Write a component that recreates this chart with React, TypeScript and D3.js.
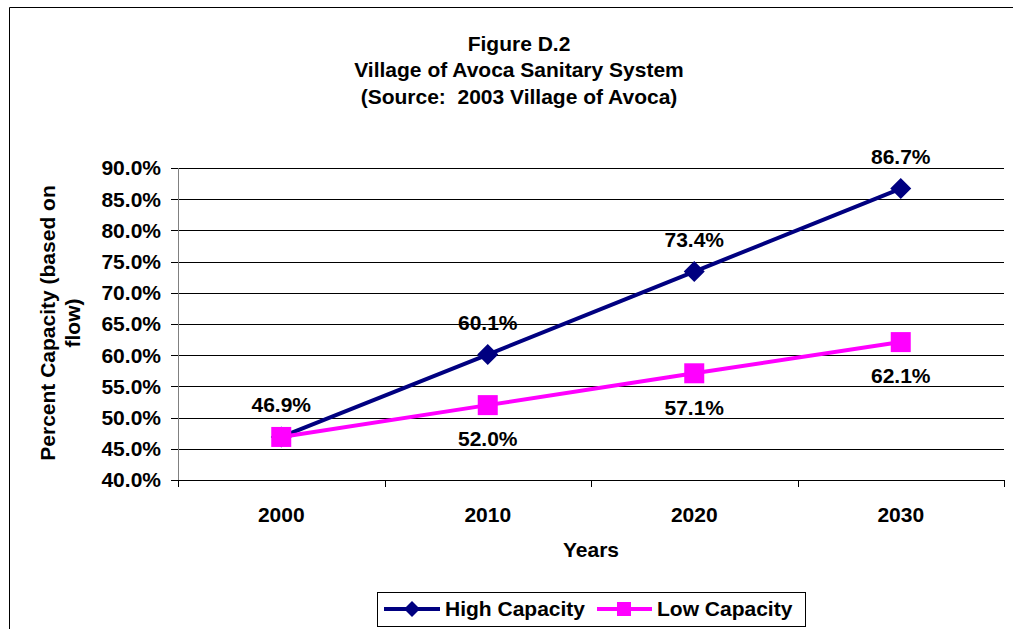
import React from "react";
import * as d3 from "d3";

const years = ["2000", "2010", "2020", "2030"];
const highCapacity = [46.9, 60.1, 73.4, 86.7];
const lowCapacity = [46.9, 52.0, 57.1, 62.1];
const yTicks = [40, 45, 50, 55, 60, 65, 70, 75, 80, 85, 90];

const W = 1013;
const H = 629;
const left = 178;
const right = 1004;
const top = 168;
const bottom = 480;
const FONT = "'Liberation Sans', Arial, sans-serif";
const FS = 21;
const HIGH = "#000080";
const LOW = "#FF00FF";

function Diamond({ x, y, r }: { x: number; y: number; r: number }) {
  return <path d={`M${x},${y - r}L${x + r},${y}L${x},${y + r}L${x - r},${y}Z`} fill={HIGH} />;
}

function Square({ x, y, r }: { x: number; y: number; r: number }) {
  return <rect x={x - r} y={y - r} width={r * 2} height={r * 2} fill={LOW} />;
}

export default function App() {
  const x = d3.scaleBand<string>().domain(years).range([left, right]);
  const y = d3.scaleLinear().domain([40, 90]).range([bottom, top]);
  const cx = (d: string) => (x(d) ?? 0) + x.bandwidth() / 2;

  const line = d3
    .line<number>()
    .x((_, i) => cx(years[i]))
    .y((v) => y(v));

  const boundaries = years.map((d) => x(d) ?? 0).concat([right]);

  return (
    <svg width={W} height={H} style={{ position: "absolute", left: 0, top: 0 }} fontFamily={FONT}>
      <rect x={0} y={0} width={W} height={H} fill="#fff" />
      {/* outer frame */}
      <path d={`M9.5,${H}V7.5H${W}`} fill="none" stroke="#000" strokeWidth={1} />

      {/* title */}
      <g fontSize={FS} fontWeight="bold" textAnchor="middle" fill="#000">
        <text x={519} y={51}>Figure D.2</text>
        <text x={519} y={77}>Village of Avoca Sanitary System</text>
        <text x={519} y={104} xmlSpace="preserve">{"(Source:  2003 Village of Avoca)"}</text>
      </g>

      {/* gridlines & y axis */}
      {yTicks.map((t) => (
        <g key={t}>
          {t > 40 && (
            <line x1={left} x2={right} y1={Math.round(y(t)) + 0.5} y2={Math.round(y(t)) + 0.5} stroke="#000" />
          )}
          <line x1={left - 7} x2={left} y1={Math.round(y(t)) + 0.5} y2={Math.round(y(t)) + 0.5} stroke="#000" />
          <text x={161} y={y(t)} dy="0.35em" textAnchor="end" fontSize={FS} fontWeight="bold">
            {t.toFixed(1)}%
          </text>
        </g>
      ))}
      <line x1={left + 0.5} x2={left + 0.5} y1={top} y2={bottom} stroke="#808080" />
      <line x1={left} x2={right} y1={bottom + 0.5} y2={bottom + 0.5} stroke="#000" />
      {boundaries.map((b, i) => (
        <line key={i} x1={Math.round(b) + 0.5} x2={Math.round(b) + 0.5} y1={bottom} y2={bottom + 7} stroke="#000" />
      ))}
      {years.map((d) => (
        <text key={d} x={cx(d)} y={515} dy="0.35em" textAnchor="middle" fontSize={FS} fontWeight="bold">
          {d}
        </text>
      ))}

      {/* axis titles */}
      <text x={591} y={550} dy="0.35em" textAnchor="middle" fontSize={FS} fontWeight="bold">Years</text>
      <g transform="translate(61,323) rotate(-90)" fontSize={FS} fontWeight="bold" textAnchor="middle">
        <text x={0} y={-13} dy="0.35em">Percent Capacity (based on</text>
        <text x={0} y={12} dy="0.35em">flow)</text>
      </g>

      {/* series: high first, low drawn on top */}
      <path d={line(highCapacity) ?? ""} fill="none" stroke={HIGH} strokeWidth={4} />
      {highCapacity.map((v, i) => (
        <Diamond key={i} x={cx(years[i])} y={y(v)} r={10.5} />
      ))}
      <path d={line(lowCapacity) ?? ""} fill="none" stroke={LOW} strokeWidth={4} />
      {lowCapacity.map((v, i) => (
        <Square key={i} x={cx(years[i])} y={y(v)} r={10} />
      ))}

      {/* data labels */}
      <g fontSize={FS} fontWeight="bold" textAnchor="middle">
        {highCapacity.map((v, i) => (
          <text key={"h" + i} x={cx(years[i])} y={y(v) - 32} dy="0.35em">
            {v.toFixed(1)}%
          </text>
        ))}
        {lowCapacity.slice(1).map((v, i) => (
          <text key={"l" + i} x={cx(years[i + 1])} y={y(v) + 34} dy="0.35em">
            {v.toFixed(1)}%
          </text>
        ))}
      </g>

      {/* legend */}
      <rect x={377.5} y={592.5} width={428} height={34} fill="#fff" stroke="#000" />
      <line x1={384} x2={440} y1={609} y2={609} stroke={HIGH} strokeWidth={4} />
      <Diamond x={412} y={609} r={8} />
      <text x={445} y={609} dy="0.35em" fontSize={FS} fontWeight="bold">High Capacity</text>
      <line x1={597} x2={652} y1={609} y2={609} stroke={LOW} strokeWidth={4} />
      <Square x={624} y={609} r={7} />
      <text x={657} y={609} dy="0.35em" fontSize={FS} fontWeight="bold">Low Capacity</text>
    </svg>
  );
}
